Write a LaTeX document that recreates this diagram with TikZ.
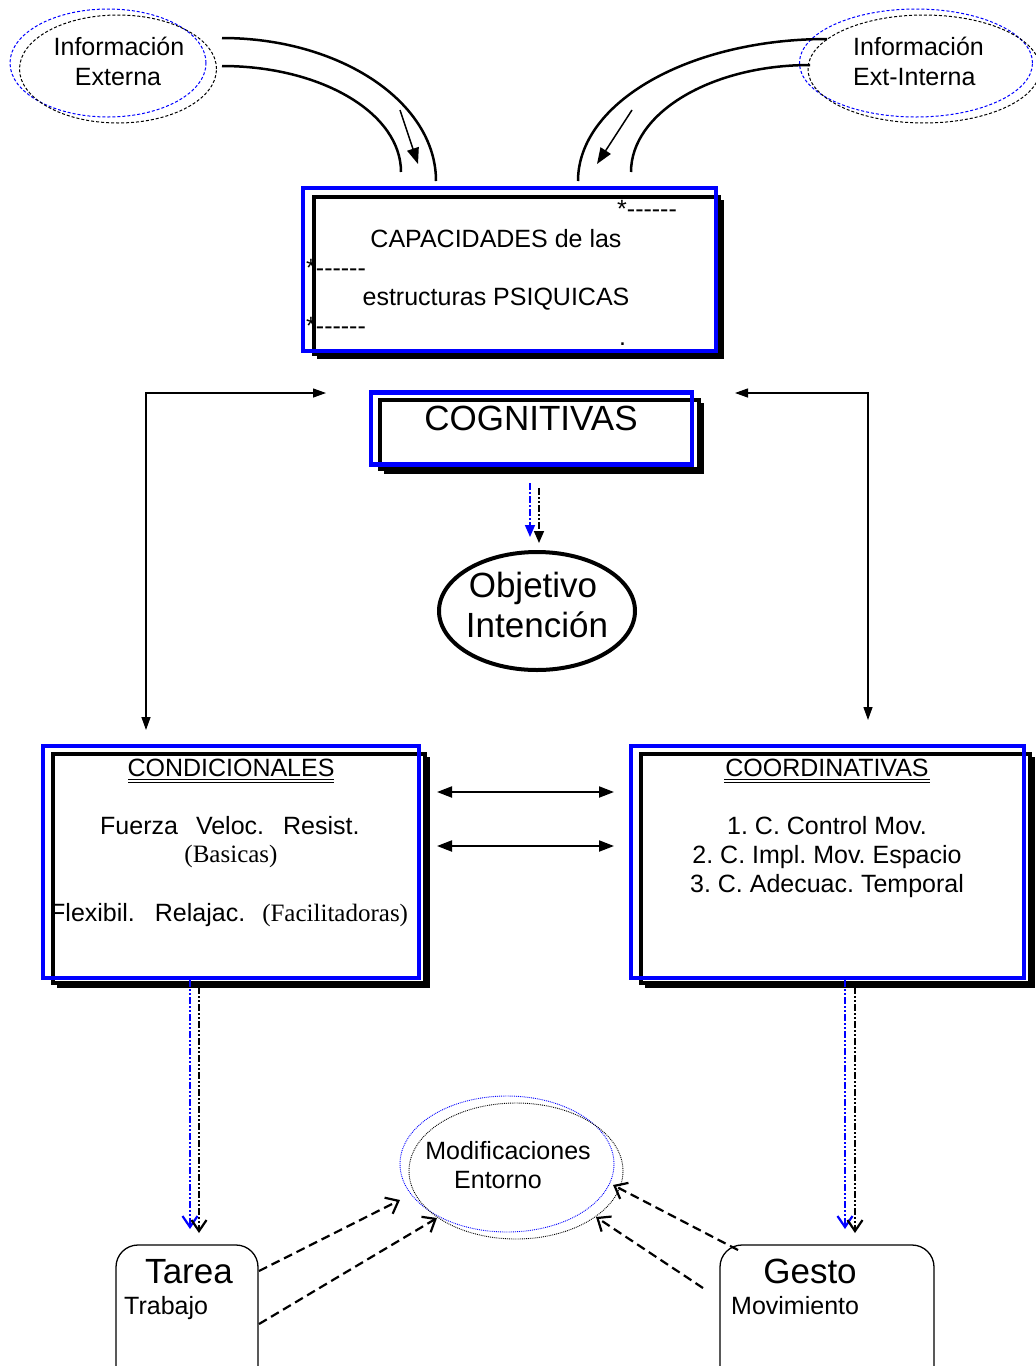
\documentclass[tikz,border=0pt]{standalone}
\usepackage{fontspec}
\setmainfont{Liberation Sans}[Ligatures=NoCommon]
\newfontfamily\seriff{Liberation Serif}
\usetikzlibrary{arrows.meta,shapes.geometric}
\frenchspacing
\newcommand\mydashes{*-{}-{}-{}-{}-{}-}
\tikzset{
  bluebox/.style={draw=blue, line width=4.5pt, rectangle, inner sep=0pt, outer sep=0pt},
  blackbox/.style={draw=black, line width=4pt, rectangle, inner sep=0pt, outer sep=0pt},
  shadowline/.style={draw=black, line width=3.5pt},
  txt/.style={font=\fontsize{25}{30}\selectfont, inner sep=0pt, anchor=base},
  bigtxt/.style={font=\fontsize{35}{40}\selectfont, inner sep=0pt, anchor=base},
  sidearrow/.style={line width=1.3pt, {Triangle[length=13pt,width=9pt]}-{Triangle[length=13pt,width=9pt]}},
  linkarrow/.style={line width=2pt, {Triangle[length=15pt,width=11pt]}-{Triangle[length=15pt,width=11pt]}},
  topcurve/.style={line width=2.5pt},
  ddot/.style={line width=1.6pt, dash pattern=on 7pt off 2pt on 2pt off 2pt on 2pt off 2pt},
  dsdot/.style={line width=1.6pt, dash pattern=on 7pt off 2pt on 2pt off 2pt},
  openhead/.style={-{Straight Barb[length=11pt,width=15pt,line width=2.2pt]}},
  fillhead/.style={-{Triangle[length=12pt,width=10pt]}},
  curvehead/.style={-{Triangle[length=16pt,width=12pt]}},
  modarrow/.style={line width=2.2pt, dash pattern=on 9pt off 5pt, -{Straight Barb[length=11pt,width=18pt,line width=2.2pt]}},
  infoell/.style={ellipse, line width=1pt, dash pattern=on 3pt off 2pt, inner sep=0pt, outer sep=0pt},
  modell/.style={ellipse, line width=0.9pt, densely dotted, inner sep=0pt, outer sep=0pt},
  roundbox/.style={draw, line width=1.3pt, rounded corners=22pt, rectangle, inner sep=0pt, outer sep=0pt}
}
\begin{document}
\begin{tikzpicture}[x=1pt,y=-1pt]
\useasboundingbox (0,0) rectangle (1036,1366);

% ---------- top information ellipses ----------
\node[infoell, draw=blue, minimum width=196, minimum height=108] (ieB) at (108,63) {};
\node[infoell, draw=black, minimum width=197, minimum height=108] (ieK) at (118,69) {};
\node[txt] (ie1) at (119,55) {Información};
\node[txt] (ie2) at (118,85) {Externa};

\node[infoell, draw=blue, minimum width=233, minimum height=108] (iiB) at (916,63) {};
\node[infoell, draw=black, minimum width=232, minimum height=108] (iiK) at (924,69) {};
\node[txt, anchor=base west] (ii1) at (853,55) {Información};
\node[txt, anchor=base west] (ii2) at (853,85) {Ext-Interna};

% ---------- curved channels ----------
\coordinate (lo1) at (222,38);  \coordinate (lo2) at (436,181);
\coordinate (li1) at (222,66);  \coordinate (li2) at (401,172);
\draw[topcurve] (lo1) .. controls (340,38) and (436,102) .. (lo2);
\draw[topcurve] (li1) .. controls (321,66) and (401,113) .. (li2);
\coordinate (la1) at (400,110); \coordinate (la2) at (418,164);
\draw[line width=1.5pt, curvehead] (la1) -- (la2);

\coordinate (ro1) at (827,39);  \coordinate (ro2) at (578,181);
\coordinate (ri1) at (810,65);  \coordinate (ri2) at (631,172);
\draw[topcurve] (ro1) .. controls (690,39) and (578,102) .. (ro2);
\draw[topcurve] (ri1) .. controls (711,65) and (631,113) .. (ri2);
\coordinate (ra1) at (632,110); \coordinate (ra2) at (597,164);
\draw[line width=1.5pt, curvehead] (ra1) -- (ra2);

% ---------- CAPACIDADES box ----------
\node[blackbox, minimum width=405, minimum height=157] (capK) at (516.5,275.5) {};
\draw[shadowline] (722,200) -- (722,357) -- (317,357);
\node[txt, anchor=base west] (s1) at (617,217) {\mydashes};
\node[txt] (cap1) at (496,247) {CAPACIDADES de las};
\node[txt, anchor=base west] (s2) at (306,276) {\mydashes};
\node[txt] (cap2) at (496,305) {estructuras PSIQUICAS};
\node[txt, anchor=base west] (s3) at (306,334) {\mydashes};
\node[txt, anchor=base west] (s4) at (619,345) {.};
\node[bluebox, minimum width=413, minimum height=163] (capB) at (509.5,269.5) {};

% ---------- COGNITIVAS box ----------
\node[blackbox, minimum width=319, minimum height=69] (cogK) at (539.5,434.5) {};
\draw[shadowline] (702,403) -- (702,472) -- (384,472);
\node[bigtxt] (cogT) at (531,430) {COGNITIVAS};
\node[bluebox, minimum width=321, minimum height=72] (cogB) at (531.5,428.5) {};

% ---------- Objetivo ----------
\node[ellipse, draw, line width=4pt, minimum width=196, minimum height=118, inner sep=0pt] (obj) at (537,611) {};
\node[bigtxt] (obj1) at (533,597) {Objetivo};
\node[bigtxt] (obj2) at (537,637) {Intención};

\coordinate (ca1) at (530,483); \coordinate (ca2) at (530,537);
\coordinate (cb1) at (539,488); \coordinate (cb2) at (539,543);
\draw[dsdot, blue, fillhead] (ca1) -- (ca2);
\draw[ddot, black, fillhead] (cb1) -- (cb2);

% ---------- side connectors ----------
\coordinate (lb) at (146,730); \coordinate (lt) at (326,393);
\draw[sidearrow] (lb) |- (lt);
\coordinate (rb) at (868,720); \coordinate (rt) at (735,393);
\draw[sidearrow] (rb) |- (rt);

% ---------- CONDICIONALES box ----------
\node[blackbox, minimum width=372, minimum height=229] (conK) at (239,868.5) {};
\draw[shadowline] (428,757) -- (428,986) -- (57,986);
\node[txt] (con0) at (231,776) {CONDICIONALES};
\draw[line width=0.8pt] (128,779.5) -- (334,779.5);
\draw[line width=0.8pt] (128,782) -- (334,782);
\node[txt, anchor=base west] (con1) at (100,834) {Fuerza\hspace{18pt}Veloc.\hspace{19pt}Resist.};
\node[txt, font=\seriff\fontsize{25}{30}\selectfont] (con2) at (231,862) {(Basicas)};
\node[txt, anchor=base west] (con3) at (50,921) {Flexibil.\hspace{20pt}Relajac.\hspace{17pt}{\seriff (Facilitadoras)}};
\node[bluebox, minimum width=376, minimum height=232] (conB) at (231,862) {};

% ---------- COORDINATIVAS box ----------
\node[blackbox, minimum width=389, minimum height=229] (cooK) at (835.5,868.5) {};
\draw[shadowline] (1033,757) -- (1033,986) -- (645,986);
\node[txt] (coo0) at (827,776) {COORDINATIVAS};
\draw[line width=0.8pt] (724,779.5) -- (930,779.5);
\draw[line width=0.8pt] (724,782) -- (930,782);
\node[txt] (coo1) at (827,834) {1. C. Control Mov.};
\node[txt] (coo2) at (827,863) {2. C. Impl. Mov. Espacio};
\node[txt] (coo3) at (827,892) {3. C. Adecuac. Temporal};
\node[bluebox, minimum width=393, minimum height=232] (cooB) at (827.5,862) {};

% ---------- horizontal links ----------
\coordinate (h1a) at (437,792); \coordinate (h1b) at (614,792);
\coordinate (h2a) at (437,846); \coordinate (h2b) at (614,846);
\draw[linkarrow] (h1a) -- (h1b);
\draw[linkarrow] (h2a) -- (h2b);

% ---------- down arrows ----------
\coordinate (d1a) at (190,980); \coordinate (d1b) at (190,1229);
\coordinate (d2a) at (199,987); \coordinate (d2b) at (199,1233);
\coordinate (d3a) at (845,980); \coordinate (d3b) at (845,1229);
\coordinate (d4a) at (855,987); \coordinate (d4b) at (855,1233);
\draw[ddot, blue, openhead] (d1a) -- (d1b);
\draw[ddot, black, openhead] (d2a) -- (d2b);
\draw[ddot, blue, openhead] (d3a) -- (d3b);
\draw[ddot, black, openhead] (d4a) -- (d4b);

% ---------- Modificaciones ----------
\node[modell, draw=blue, minimum width=214, minimum height=136] (modB) at (507,1164) {};
\node[modell, draw=black, minimum width=214, minimum height=136] (modK) at (516,1171) {};
\node[txt] (mod1) at (508,1159) {Modificaciones};
\node[txt] (mod2) at (498,1188) {Entorno};

% ---------- Tarea / Gesto ----------
\draw[roundbox] (116,1380) -- (116,1245) -- (258,1245) -- (258,1380);
\node[bigtxt] (tar1) at (189,1283) {Tarea};
\node[txt, anchor=base west] (tar2) at (124,1314) {Trabajo};
\draw[roundbox] (720,1380) -- (720,1245) -- (934,1245) -- (934,1380);
\node[bigtxt] (ges1) at (810,1283) {Gesto};
\node[txt, anchor=base west] (ges2) at (731,1314) {Movimiento};

\coordinate (t1) at (259,1271); \coordinate (m1) at (400,1200);
\coordinate (t2) at (259,1324); \coordinate (m2) at (437,1218);
\coordinate (g1) at (738,1250); \coordinate (m3) at (613,1185);
\coordinate (g2) at (703,1288); \coordinate (m4) at (596,1217);
\draw[modarrow] (t1) -- (m1);
\draw[modarrow] (t2) -- (m2);
\draw[modarrow] (g1) -- (m3);
\draw[modarrow] (g2) -- (m4);
\end{tikzpicture}
\end{document}
